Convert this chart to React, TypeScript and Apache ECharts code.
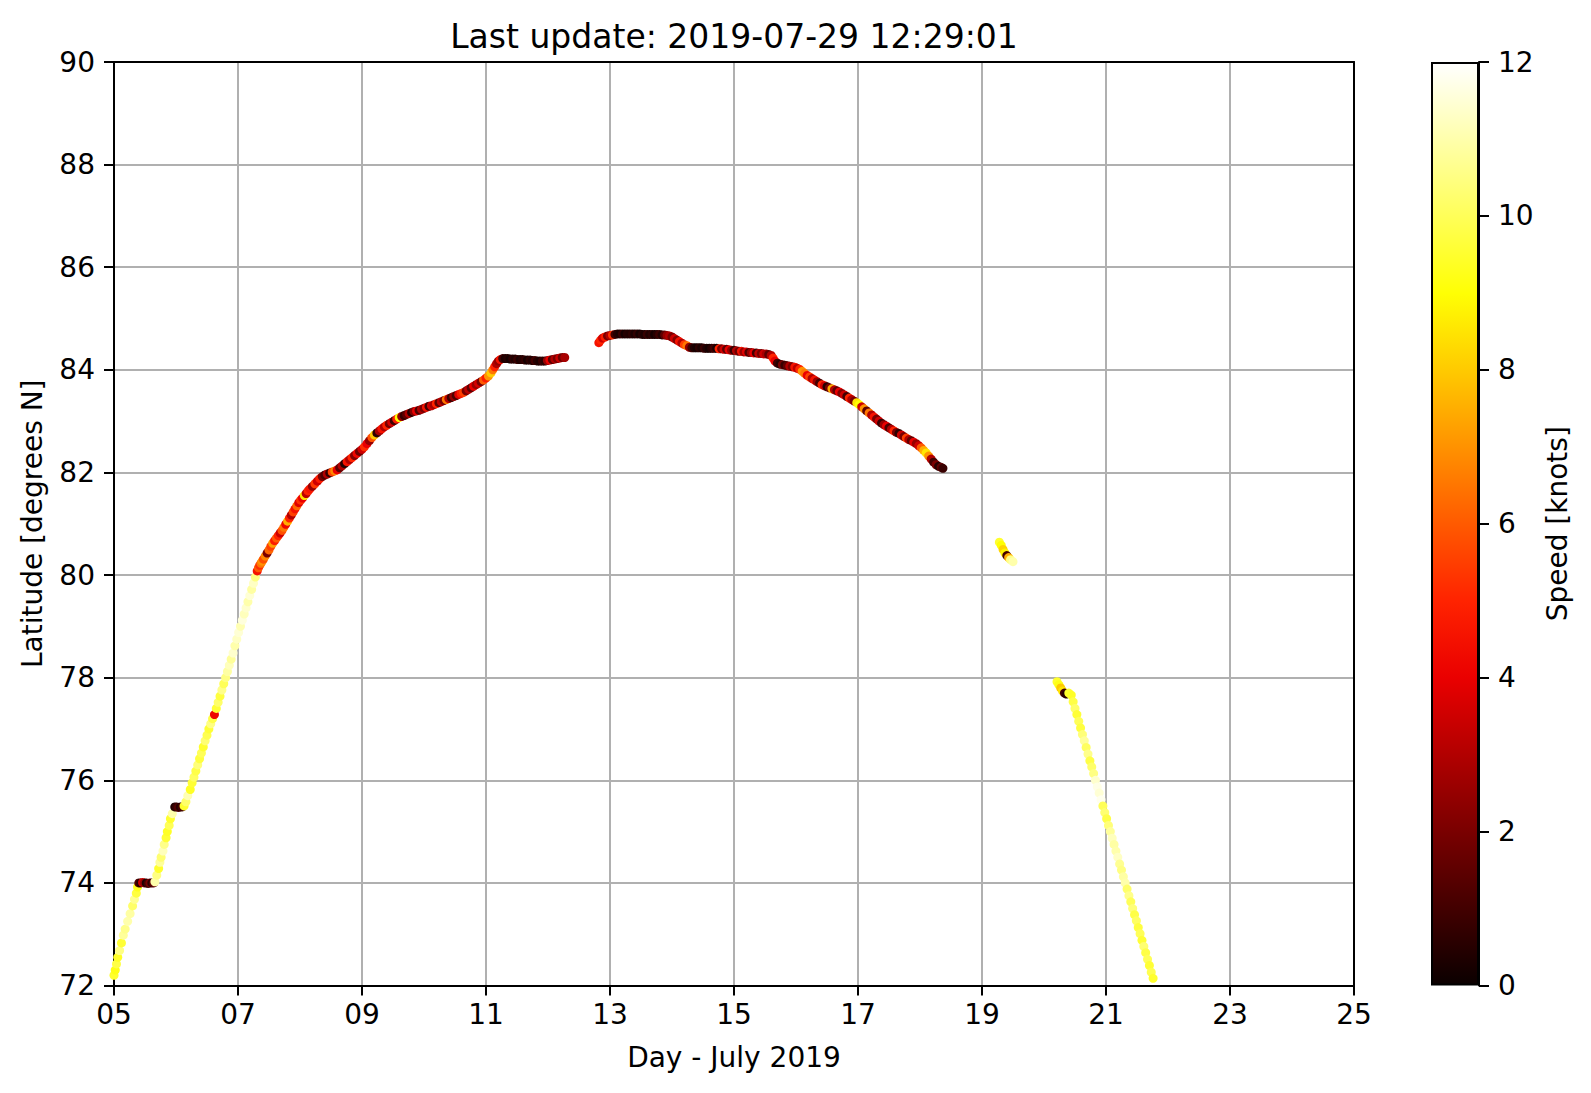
import React, { useEffect, useRef } from "react";
import * as echarts from "echarts";

// [day of July 2019, latitude °N, speed knots]
const legNorth1: [number, number, number][] = [
  [5.0, 72.2, 9.5], [5.02, 72.3, 9.2], [5.04, 72.42, 9.8], [5.06, 72.55, 9.4], [5.09, 72.68, 10.5],
  [5.12, 72.83, 9.6], [5.15, 72.98, 10.8], [5.18, 73.1, 10.6], [5.22, 73.25, 11.0], [5.26, 73.4, 10.9],
  [5.3, 73.55, 10.2], [5.33, 73.68, 10.7], [5.36, 73.8, 9.7], [5.38, 73.92, 9.3],
  [5.4, 74.0, 1.2], [5.43, 74.0, 0.5], [5.46, 74.01, 3.5], [5.49, 74.0, 2.5], [5.52, 74.0, 0.3],
  [5.55, 73.99, 1.0], [5.58, 74.0, 2.0], [5.61, 74.0, 0.6], [5.64, 74.0, 1.5], [5.66, 74.02, 11.0],
  [5.69, 74.15, 10.5], [5.72, 74.28, 9.5], [5.74, 74.4, 10.8], [5.76, 74.5, 10.3], [5.79, 74.62, 11.2],
  [5.81, 74.75, 10.6], [5.84, 74.88, 9.6], [5.86, 75.0, 9.4], [5.89, 75.12, 10.0], [5.91, 75.25, 9.5],
  [5.94, 75.35, 11.0],
  [5.98, 75.48, 0.4], [6.01, 75.48, 0.8], [6.04, 75.47, 1.3], [6.07, 75.48, 0.5], [6.1, 75.48, 1.0],
  [6.13, 75.5, 9.5], [6.16, 75.58, 10.2], [6.19, 75.7, 11.1], [6.23, 75.82, 9.4], [6.26, 75.95, 9.6],
  [6.29, 76.06, 10.1], [6.32, 76.18, 9.8], [6.35, 76.3, 10.4], [6.38, 76.42, 9.7], [6.41, 76.53, 10.0],
  [6.44, 76.65, 9.5], [6.47, 76.77, 10.3], [6.5, 76.88, 9.9], [6.53, 77.0, 9.6], [6.56, 77.1, 10.5],
  [6.59, 77.2, 9.8], [6.62, 77.28, 4.2], [6.65, 77.4, 9.6], [6.68, 77.52, 10.2], [6.71, 77.64, 9.7],
  [6.74, 77.76, 10.6], [6.77, 77.88, 10.0], [6.8, 78.0, 10.5], [6.83, 78.12, 10.9], [6.86, 78.24, 11.2],
  [6.89, 78.36, 10.8], [6.92, 78.48, 11.4], [6.95, 78.62, 11.0], [6.98, 78.75, 11.3], [7.01, 78.88, 11.5],
  [7.04, 79.0, 11.1], [7.07, 79.12, 11.6], [7.1, 79.24, 11.2], [7.13, 79.36, 11.4], [7.16, 79.48, 11.0],
  [7.19, 79.6, 11.5], [7.22, 79.72, 10.9], [7.25, 79.84, 11.3], [7.28, 79.96, 10.5],
];

const legNorth2: [number, number, number][] = [
  [7.31, 80.08, 4.5], [7.33, 80.14, 6.0], [7.35, 80.19, 5.2], [7.37, 80.23, 6.5], [7.39, 80.27, 7.0],
  [7.41, 80.31, 5.8], [7.44, 80.37, 6.8], [7.47, 80.43, 2.0], [7.5, 80.49, 6.2], [7.53, 80.56, 5.5],
  [7.56, 80.62, 7.2], [7.59, 80.67, 4.8], [7.62, 80.72, 6.0], [7.65, 80.77, 5.0], [7.68, 80.82, 3.5],
  [7.71, 80.87, 5.8], [7.74, 80.93, 6.5], [7.77, 80.99, 4.2], [7.8, 81.05, 7.5], [7.83, 81.11, 5.0],
  [7.86, 81.17, 3.0], [7.89, 81.23, 5.5], [7.92, 81.29, 4.5], [7.95, 81.35, 6.2], [7.98, 81.41, 3.8],
  [8.01, 81.46, 5.2], [8.04, 81.5, 4.0], [8.07, 81.55, 8.5], [8.1, 81.59, 3.2], [8.13, 81.64, 5.0],
  [8.16, 81.68, 4.6], [8.2, 81.73, 2.5], [8.24, 81.78, 5.4], [8.28, 81.83, 3.5], [8.32, 81.88, 4.8],
  [8.36, 81.92, 2.0], [8.4, 81.95, 1.2], [8.44, 81.97, 3.0], [8.48, 81.99, 0.8], [8.52, 82.01, 5.5],
  [8.56, 82.03, 6.8], [8.6, 82.05, 4.0], [8.64, 82.09, 1.5], [8.68, 82.13, 3.0], [8.72, 82.17, 0.5],
  [8.76, 82.21, 4.5], [8.8, 82.25, 3.0], [8.84, 82.29, 5.0], [8.88, 82.33, 2.2], [8.92, 82.37, 4.2],
  [8.96, 82.41, 1.8], [9.0, 82.45, 3.5], [9.04, 82.5, 5.2], [9.08, 82.56, 4.0], [9.12, 82.62, 2.5],
  [9.16, 82.68, 5.8], [9.2, 82.73, 8.0], [9.24, 82.77, 0.6], [9.28, 82.81, 2.8], [9.32, 82.85, 4.5],
  [9.36, 82.89, 3.0], [9.4, 82.92, 5.0], [9.44, 82.95, 2.0], [9.48, 82.98, 3.6], [9.52, 83.01, 1.0],
  [9.56, 83.04, 4.8], [9.6, 83.07, 9.0], [9.64, 83.09, 2.5], [9.68, 83.11, 0.8], [9.72, 83.13, 1.5],
  [9.76, 83.15, 3.0], [9.8, 83.17, 0.5], [9.84, 83.19, 2.2], [9.88, 83.2, 4.0], [9.92, 83.21, 1.2],
  [9.96, 83.23, 3.0], [10.0, 83.25, 2.0], [10.04, 83.27, 4.5], [10.08, 83.29, 1.0], [10.12, 83.3, 3.5],
  [10.16, 83.32, 2.8], [10.2, 83.34, 5.0], [10.24, 83.36, 1.5], [10.28, 83.38, 3.2], [10.32, 83.4, 2.0],
  [10.36, 83.42, 6.5], [10.4, 83.44, 3.0], [10.44, 83.46, 0.8], [10.48, 83.48, 2.5], [10.52, 83.5, 1.2],
  [10.56, 83.52, 3.8], [10.6, 83.54, 4.8], [10.64, 83.56, 5.5], [10.68, 83.59, 2.0], [10.72, 83.62, 3.2],
  [10.76, 83.65, 1.5], [10.8, 83.68, 4.0], [10.84, 83.71, 2.6], [10.88, 83.74, 3.6], [10.92, 83.77, 2.0],
  [10.96, 83.8, 6.0], [11.0, 83.84, 4.8], [11.04, 83.88, 7.0], [11.08, 83.94, 8.0], [11.11, 84.0, 6.5],
  [11.14, 84.06, 5.0], [11.17, 84.12, 3.0], [11.2, 84.17, 2.5], [11.23, 84.2, 4.5], [11.27, 84.22, 1.0],
  [11.31, 84.22, 0.3], [11.35, 84.22, 0.5], [11.39, 84.21, 0.2], [11.43, 84.21, 0.6], [11.47, 84.21, 0.4],
  [11.51, 84.2, 0.8], [11.55, 84.2, 0.3], [11.59, 84.2, 0.5], [11.63, 84.19, 0.7], [11.67, 84.19, 0.2],
  [11.71, 84.19, 0.6], [11.75, 84.18, 0.4], [11.79, 84.18, 1.0], [11.83, 84.17, 0.5], [11.87, 84.17, 0.3],
  [11.91, 84.17, 0.8], [11.95, 84.17, 0.5], [11.99, 84.18, 2.5], [12.03, 84.19, 4.0], [12.07, 84.2, 1.5],
  [12.11, 84.21, 3.0], [12.15, 84.22, 2.0], [12.19, 84.23, 3.5], [12.23, 84.24, 1.8], [12.27, 84.24, 2.8],
];

const legSouth1: [number, number, number][] = [
  [12.82, 84.53, 4.5], [12.85, 84.58, 5.0], [12.88, 84.62, 3.5], [12.92, 84.64, 4.8], [12.96, 84.66, 2.0],
  [13.0, 84.67, 3.0], [13.04, 84.68, 5.2], [13.08, 84.69, 1.0], [13.12, 84.7, 0.5], [13.16, 84.7, 0.3],
  [13.2, 84.7, 0.8], [13.24, 84.7, 0.2], [13.28, 84.7, 0.5], [13.32, 84.7, 0.4], [13.36, 84.7, 0.6],
  [13.4, 84.7, 0.3], [13.44, 84.7, 0.7], [13.48, 84.7, 0.2], [13.52, 84.69, 0.5], [13.56, 84.69, 0.3],
  [13.6, 84.69, 0.8], [13.64, 84.69, 0.4], [13.68, 84.69, 0.6], [13.72, 84.69, 0.2], [13.76, 84.69, 0.5],
  [13.8, 84.69, 0.9], [13.84, 84.68, 0.4], [13.88, 84.68, 1.5], [13.92, 84.67, 2.5], [13.96, 84.66, 3.0],
  [14.0, 84.64, 2.0], [14.04, 84.61, 3.5], [14.08, 84.58, 2.2], [14.12, 84.55, 4.5], [14.16, 84.52, 3.0],
  [14.2, 84.49, 5.5], [14.24, 84.47, 6.5], [14.28, 84.44, 2.5], [14.32, 84.43, 1.0], [14.36, 84.43, 0.4],
  [14.4, 84.43, 0.2], [14.44, 84.43, 0.6], [14.48, 84.43, 0.3], [14.52, 84.42, 0.8], [14.56, 84.42, 0.4],
  [14.6, 84.42, 0.2], [14.64, 84.42, 0.5], [14.68, 84.42, 1.0], [14.72, 84.42, 0.3], [14.76, 84.41, 5.0],
  [14.8, 84.41, 2.0], [14.84, 84.4, 3.5], [14.88, 84.4, 1.5], [14.92, 84.39, 4.0], [14.96, 84.38, 2.5],
  [15.0, 84.38, 0.8], [15.04, 84.37, 3.0], [15.08, 84.36, 1.8], [15.12, 84.36, 4.5], [15.16, 84.35, 2.5],
  [15.2, 84.35, 3.8], [15.24, 84.34, 1.2], [15.28, 84.34, 2.5], [15.32, 84.33, 4.0], [15.36, 84.33, 1.0],
  [15.4, 84.32, 3.2], [15.44, 84.32, 2.0], [15.48, 84.31, 3.5], [15.52, 84.31, 2.8], [15.56, 84.3, 1.5],
  [15.6, 84.28, 3.0], [15.63, 84.23, 5.0], [15.66, 84.17, 4.0], [15.7, 84.13, 1.0], [15.74, 84.11, 0.5],
  [15.78, 84.1, 2.0], [15.82, 84.09, 0.8], [15.86, 84.08, 1.5], [15.9, 84.07, 3.0], [15.94, 84.06, 2.0],
  [15.98, 84.05, 4.5], [16.02, 84.03, 3.2], [16.06, 84.01, 5.0], [16.1, 83.97, 7.0], [16.14, 83.93, 6.5],
  [16.18, 83.89, 4.0], [16.22, 83.86, 5.5], [16.26, 83.83, 3.0], [16.3, 83.8, 4.5], [16.34, 83.77, 2.5],
  [16.38, 83.74, 1.0], [16.42, 83.71, 5.0], [16.46, 83.69, 3.5], [16.5, 83.67, 0.5], [16.54, 83.65, 2.0],
  [16.58, 83.63, 7.5], [16.62, 83.61, 3.0], [16.66, 83.59, 1.5], [16.7, 83.57, 4.0], [16.74, 83.54, 2.2],
  [16.78, 83.51, 3.5], [16.82, 83.48, 1.0], [16.86, 83.45, 5.0], [16.9, 83.42, 3.0], [16.94, 83.39, 2.0],
  [16.98, 83.36, 8.5], [17.02, 83.32, 9.0], [17.06, 83.28, 3.5], [17.1, 83.24, 7.0], [17.14, 83.2, 1.5],
  [17.18, 83.16, 6.5], [17.22, 83.12, 3.0], [17.26, 83.08, 4.5], [17.3, 83.04, 2.0], [17.34, 83.0, 3.5],
  [17.38, 82.96, 0.8], [17.42, 82.93, 2.5], [17.46, 82.9, 4.0], [17.5, 82.87, 1.2], [17.54, 82.84, 3.0],
  [17.58, 82.81, 5.0], [17.62, 82.78, 2.0], [17.66, 82.76, 0.6], [17.7, 82.73, 3.5], [17.74, 82.7, 2.0],
  [17.78, 82.67, 5.5], [17.82, 82.64, 3.0], [17.86, 82.62, 1.5], [17.9, 82.59, 4.0], [17.94, 82.56, 2.5],
  [17.98, 82.52, 3.5], [18.02, 82.48, 6.0], [18.06, 82.43, 7.5], [18.1, 82.38, 8.5], [18.14, 82.32, 7.0],
  [18.18, 82.26, 3.0], [18.22, 82.2, 1.0], [18.26, 82.15, 2.0], [18.3, 82.12, 0.5], [18.34, 82.1, 1.5],
  [18.37, 82.08, 0.8],
];

const legSouth2: [number, number, number][] = [
  [19.28, 80.64, 9.5], [19.31, 80.58, 9.0], [19.34, 80.5, 8.2], [19.37, 80.43, 8.8], [19.4, 80.38, 1.0],
  [19.43, 80.34, 7.5], [19.46, 80.3, 10.5], [19.5, 80.26, 11.0],
];

const legSouth3: [number, number, number][] = [
  [20.21, 77.92, 9.5], [20.24, 77.86, 9.2], [20.27, 77.8, 8.0], [20.3, 77.74, 8.5], [20.33, 77.7, 1.0],
  [20.36, 77.68, 0.5], [20.4, 77.7, 9.5], [20.44, 77.66, 9.4], [20.47, 77.53, 9.8], [20.5, 77.4, 10.2],
  [20.53, 77.28, 9.6], [20.56, 77.15, 10.0], [20.59, 77.02, 9.7], [20.62, 76.89, 10.4], [20.65, 76.77, 10.8],
  [20.68, 76.64, 10.1], [20.71, 76.51, 10.6], [20.74, 76.38, 9.8], [20.77, 76.26, 10.2], [20.8, 76.13, 10.5],
  [20.83, 76.0, 11.4], [20.86, 75.87, 11.7], [20.89, 75.75, 11.5], [20.92, 75.62, 11.8], [20.95, 75.5, 10.0],
  [20.98, 75.37, 10.3], [21.01, 75.25, 9.8], [21.04, 75.12, 10.4], [21.07, 75.0, 10.8], [21.1, 74.87, 11.2],
  [21.13, 74.75, 10.9], [21.16, 74.62, 11.0], [21.19, 74.5, 11.3], [21.22, 74.37, 10.7], [21.25, 74.25, 10.5],
  [21.28, 74.12, 10.9], [21.31, 74.0, 11.0], [21.34, 73.88, 10.2], [21.37, 73.75, 10.6], [21.4, 73.63, 10.0],
  [21.43, 73.5, 10.4], [21.46, 73.38, 9.8], [21.49, 73.26, 10.1], [21.52, 73.13, 9.7], [21.55, 73.01, 10.0],
  [21.58, 72.88, 9.6], [21.61, 72.76, 10.3], [21.64, 72.64, 9.8], [21.67, 72.51, 10.0], [21.7, 72.39, 9.6],
  [21.73, 72.26, 9.9], [21.76, 72.14, 9.5],
];

// "hot" colormap sampled at 0,1,...,12 knots
const hotColors = [
  "#0b0000", "#430000", "#7a0000", "#b20000", "#ea0000", "#ff2300", "#ff5a00",
  "#ff9200", "#ffca00", "#ffff04", "#ffff58", "#ffffab", "#ffffff",
];

const titleText = "Last update: 2019-07-29 12:29:01";
const FONT = "DejaVu Sans";

export default function App() {
  const ref = useRef<HTMLDivElement>(null);

  useEffect(() => {
    if (!ref.current) return;
    const chart = echarts.init(ref.current, undefined, { renderer: "svg" });
    const allPoints = [...legNorth1, ...legNorth2, ...legSouth1, ...legSouth2, ...legSouth3];
    // gradient from top (12 knots, white) to bottom (0 knots, black), offsets ascending
    const stops = hotColors.map((_, i) => ({ offset: i / 12, color: hotColors[12 - i] }));

    const gridLeft = 114, gridTop = 62, gridW = 1240, gridH = 923.5;
    const cbLeft = 1431, cbW = 48;

    const axisLineStyle = { lineStyle: { color: "#000", width: 2 } };

    chart.setOption({
      animation: false,
      textStyle: { fontFamily: FONT, color: "#000" },
      graphic: [
        {
          type: "text",
          x: gridLeft + gridW / 2,
          y: 36,
          style: {
            text: titleText,
            font: `33px "${FONT}"`,
            fill: "#000",
            textAlign: "center",
            textVerticalAlign: "middle",
          },
        },
      ],
      grid: [
        { left: gridLeft, top: gridTop, width: gridW, height: gridH },
        { left: cbLeft, top: gridTop, width: cbW, height: gridH },
      ],
      visualMap: {
        type: "continuous",
        show: false,
        min: 0,
        max: 12,
        dimension: 2,
        seriesIndex: 0,
        inRange: { color: hotColors },
      },
      xAxis: [
        {
          type: "value",
          gridIndex: 0,
          min: 5,
          max: 25,
          interval: 2,
          name: "Day - July 2019",
          nameLocation: "middle",
          nameGap: 58,
          nameTextStyle: { fontSize: 28, fontFamily: FONT, color: "#000" },
          axisLine: axisLineStyle,
          axisTick: { show: true, length: 10, lineStyle: { color: "#000", width: 2 } },
          axisLabel: {
            fontSize: 28,
            fontFamily: FONT,
            color: "#000",
            margin: 15,
            formatter: (v: number) => String(v).padStart(2, "0"),
          },
          splitLine: {
            show: true,
            showMinLine: false,
            showMaxLine: false,
            lineStyle: { color: "#b0b0b0", width: 2 },
          },
        },
        {
          type: "value",
          gridIndex: 0,
          position: "top",
          min: 5,
          max: 25,
          axisLine: axisLineStyle,
          axisTick: { show: false },
          axisLabel: { show: false },
          splitLine: { show: false },
        },
        {
          type: "category",
          gridIndex: 1,
          data: ["speed"],
          show: false,
        },
      ],
      yAxis: [
        {
          type: "value",
          gridIndex: 0,
          min: 72,
          max: 90,
          interval: 2,
          name: "Latitude [degrees N]",
          nameLocation: "middle",
          nameRotate: 90,
          nameGap: 68,
          nameTextStyle: { fontSize: 28, fontFamily: FONT, color: "#000" },
          axisLine: { show: true, ...axisLineStyle },
          axisTick: { show: true, length: 10, lineStyle: { color: "#000", width: 2 } },
          axisLabel: { fontSize: 28, fontFamily: FONT, color: "#000", margin: 19 },
          splitLine: {
            show: true,
            showMinLine: false,
            showMaxLine: false,
            lineStyle: { color: "#b0b0b0", width: 2 },
          },
        },
        {
          type: "value",
          gridIndex: 0,
          position: "right",
          min: 72,
          max: 90,
          axisLine: { show: true, ...axisLineStyle },
          axisTick: { show: false },
          axisLabel: { show: false },
          splitLine: { show: false },
        },
        {
          type: "value",
          gridIndex: 1,
          position: "right",
          min: 0,
          max: 12,
          interval: 2,
          name: "Speed [knots]",
          nameLocation: "middle",
          nameRotate: 90,
          nameGap: 64,
          nameTextStyle: { fontSize: 28, fontFamily: FONT, color: "#000" },
          axisLine: { show: true, lineStyle: { color: "#000", width: 2 } },
          axisTick: { show: true, length: 10, lineStyle: { color: "#000", width: 2 } },
          axisLabel: { fontSize: 28, fontFamily: FONT, color: "#000", margin: 19 },
          splitLine: { show: false },
        },
      ],
      series: [
        {
          type: "scatter",
          xAxisIndex: 0,
          yAxisIndex: 0,
          symbol: "circle",
          symbolSize: 9,
          data: allPoints,
          itemStyle: { opacity: 1 },
        },
        {
          type: "bar",
          xAxisIndex: 2,
          yAxisIndex: 2,
          barWidth: "100%",
          data: [12],
          silent: true,
          itemStyle: {
            color: { type: "linear", x: 0, y: 0, x2: 0, y2: 1, colorStops: stops },
            borderColor: "#000",
            borderWidth: 2,
          },
        },
      ],
    });
    return () => chart.dispose();
  }, []);

  return (
    <div
      ref={ref}
      style={{ position: "fixed", left: 0, top: 0, width: 1591, height: 1093, background: "#fff" }}
    />
  );
}
